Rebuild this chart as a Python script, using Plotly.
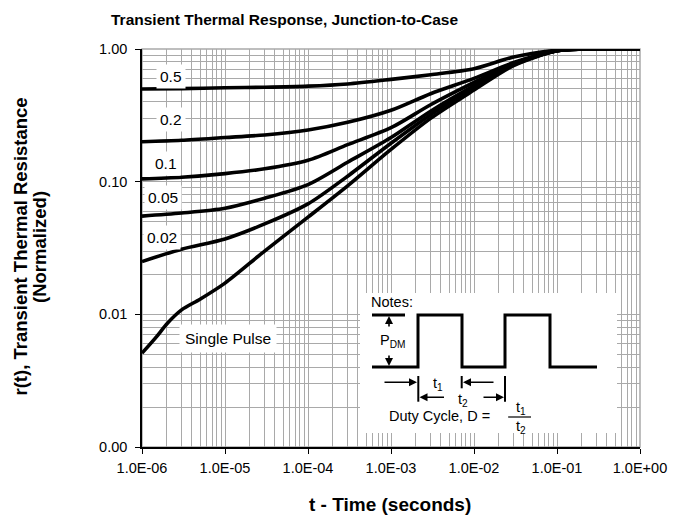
import plotly.graph_objects as go

# ---------------- data ----------------
t_duty = [1e-6, 3e-6, 1e-5, 3e-5, 1e-4, 3e-4, 1e-3, 3e-3, 1e-2, 3e-2, 1e-1, 2e-1, 1.0]
r_d050 = [0.50, 0.503, 0.51, 0.515, 0.525, 0.545, 0.59, 0.64, 0.71, 0.87, 0.98, 1.0, 1.0]
r_d020 = [0.20, 0.205, 0.215, 0.225, 0.245, 0.28, 0.345, 0.46, 0.60, 0.79, 0.97, 1.0, 1.0]
r_d010 = [0.105, 0.108, 0.115, 0.125, 0.145, 0.19, 0.255, 0.38, 0.56, 0.78, 0.97, 1.0, 1.0]
r_d005 = [0.055, 0.058, 0.063, 0.075, 0.095, 0.14, 0.215, 0.34, 0.53, 0.77, 0.97, 1.0, 1.0]
r_d002 = [0.025, 0.031, 0.037, 0.048, 0.068, 0.11, 0.195, 0.32, 0.51, 0.76, 0.97, 1.0, 1.0]

t_single = [1e-6, 1.5e-6, 2e-6, 3e-6, 5e-6, 1e-5, 3e-5, 1e-4, 3e-4, 1e-3, 3e-3, 1e-2, 3e-2, 1e-1, 2e-1, 1.0]
r_single = [0.0051, 0.0068, 0.0085, 0.0108, 0.013, 0.0172, 0.030, 0.054, 0.093, 0.175, 0.30, 0.49, 0.75, 0.97, 1.0, 1.0]

series_names = ["0.5", "0.2", "0.1", "0.05", "0.02", "Single Pulse"]

x_tickvals = [1e-6, 1e-5, 1e-4, 1e-3, 1e-2, 1e-1, 1.0]
x_ticktext = ["1.0E-06", "1.0E-05", "1.0E-04", "1.0E-03", "1.0E-02", "1.0E-01", "1.0E+00"]
y_tickvals = [0.001, 0.01, 0.1, 1.0]
y_ticktext = ["0.00", "0.01", "0.10", "1.00"]

# ---------------- layout geometry ----------------
# the page body has an 8px margin, so the figure is drawn 8px smaller and
# all screen positions below are given in window pixels
OFF = 8
W, H = 683 - OFF, 518 - OFF
ML, MR, MT, MB = 142 - OFF, 43, 49 - OFF, 71
PW, PH = W - ML - MR, H - MT - MB


def fx(px):
    return (px - OFF - ML) / PW


def fy(py):
    return (H + OFF - MB - py) / PH


FONT = "Liberation Sans, Arial, sans-serif"
GRID = "#a9a9a9"

fig = go.Figure()
all_series = [
    (t_duty, r_d050), (t_duty, r_d020), (t_duty, r_d010),
    (t_duty, r_d005), (t_duty, r_d002), (t_single, r_single),
]
for name, (tx, ry) in zip(series_names, all_series):
    fig.add_trace(go.Scatter(
        x=tx, y=ry, mode="lines", name=name,
        line=dict(color="black", width=3.6, shape="spline", smoothing=0.8),
        showlegend=False, hoverinfo="skip",
    ))

shapes = []
annotations = []

# plot border (grey top/right)
shapes.append(dict(type="rect", xref="paper", yref="paper", x0=0, x1=1, y0=0, y1=1,
                   line=dict(color=GRID, width=1.5), layer="below"))

# curve labels
label_pos = [(171, 76), (171, 119), (166, 163), (163, 197.5), (162, 237.5), (227.5, 338.5)]
for name, (px, py) in zip(series_names, label_pos):
    annotations.append(dict(
        x=fx(px), y=fy(py), xref="paper", yref="paper", text=name, showarrow=False,
        font=dict(family=FONT, size=15.5, color="black"), bgcolor="white",
        borderpad=5 if name == "Single Pulse" else 3,
        xanchor="center", yanchor="middle",
    ))

# ----- Notes inset -----
shapes.append(dict(type="rect", xref="paper", yref="paper",
                   x0=fx(360), x1=fx(617), y0=fy(433), y1=fy(293),
                   fillcolor="white", line=dict(width=0), layer="above"))


def pathp(points):
    s = ""
    for i, (px, py) in enumerate(points):
        s += ("M" if i == 0 else "L") + f"{fx(px):.5f},{fy(py):.5f} "
    return s.strip()


wave = [(372, 367), (418, 367), (418, 315), (462, 315), (462, 367), (505, 367),
        (505, 315), (550, 315), (550, 367), (597, 367)]
shapes.append(dict(type="path", xref="paper", yref="paper", path=pathp(wave),
                   line=dict(color="black", width=3), layer="above"))
shapes.append(dict(type="line", xref="paper", yref="paper", x0=fx(372), x1=fx(405),
                   y0=fy(315), y1=fy(315), line=dict(color="black", width=3), layer="above"))
for (xv, ya, yb) in [(418.3, 376, 401.7), (461.7, 376, 388.3), (505, 376, 401.7)]:
    shapes.append(dict(type="line", xref="paper", yref="paper", x0=fx(xv), x1=fx(xv),
                       y0=fy(ya), y1=fy(yb), line=dict(color="black", width=2), layer="above"))
# fraction bar
shapes.append(dict(type="line", xref="paper", yref="paper", x0=fx(508), x1=fx(531),
                   y0=fy(417), y1=fy(417), line=dict(color="black", width=1.2), layer="above"))

# arrows (head at x,y; tail offset ax, ay in px)
arrows = [
    (389, 316, 0, 12),      # P_DM up
    (389, 366, 0, -12),     # P_DM down
    (417, 382.3, -34, 0),   # t1 left arrow -> right
    (463, 382.3, 32, 0),    # t1 right arrow <- left
    (419.5, 397.3, 26, 0),  # t2 left
    (504, 397.3, -22, 0),   # t2 right
]
for (hx, hy, ax, ay) in arrows:
    annotations.append(dict(x=fx(hx), y=fy(hy), xref="paper", yref="paper", text="",
                            showarrow=True, ax=ax, ay=ay, arrowhead=2, arrowsize=1,
                            arrowwidth=1.6, arrowcolor="black", standoff=0))

notes_txt = [
    ("Notes:", 369, 302, "left"),
    ("P<sub>DM</sub>", 392, 341, "center"),
    ("t<sub>1</sub>", 438, 384, "center"),
    ("t<sub>2</sub>", 463, 400, "center"),
    ("Duty Cycle, D =", 439, 416, "center"),
    ("t<sub>1</sub>", 521, 408, "center"),
    ("t<sub>2</sub>", 521, 427, "center"),
]
for (txt, px, py, anc) in notes_txt:
    annotations.append(dict(x=fx(px), y=fy(py), xref="paper", yref="paper", text=txt,
                            showarrow=False, xanchor=anc, yanchor="middle",
                            font=dict(family=FONT, size=14.5, color="black")))

# axis titles
annotations.append(dict(x=fx(19.5), y=fy(247), xref="paper", yref="paper",
                        text="<b>r(t), Transient Thermal Resistance</b>", textangle=-90,
                        showarrow=False, font=dict(family=FONT, size=18.5, color="black"),
                        xanchor="center", yanchor="middle"))
annotations.append(dict(x=fx(39), y=fy(247), xref="paper", yref="paper",
                        text="<b>(Normalized)</b>", textangle=-90,
                        showarrow=False, font=dict(family=FONT, size=18.5, color="black"),
                        xanchor="center", yanchor="middle"))
annotations.append(dict(x=fx(390), y=fy(504), xref="paper", yref="paper",
                        text="<b>t - Time (seconds)</b>",
                        showarrow=False, font=dict(family=FONT, size=19, color="black"),
                        xanchor="center", yanchor="middle"))
annotations.append(dict(x=fx(284), y=fy(20), xref="paper", yref="paper",
                        text="<b>Transient Thermal Response, Junction-to-Case</b>",
                        showarrow=False,
                        font=dict(family=FONT, size=15.5, color="black"),
                        xanchor="center", yanchor="middle"))

fig.update_layout(
    width=W, height=H,
    margin=dict(l=ML, r=MR, t=MT, b=MB, pad=0),
    paper_bgcolor="white", plot_bgcolor="white",
    font=dict(family=FONT, color="black"),
    shapes=shapes, annotations=annotations,
    showlegend=False,
)
fig.update_xaxes(
    type="log", range=[-6, 0], tickvals=x_tickvals, ticktext=x_ticktext,
    showgrid=True, gridcolor=GRID, gridwidth=1,
    minor=dict(dtick="D1", showgrid=True, gridcolor=GRID, gridwidth=1, ticks=""),
    showline=True, linecolor="black", linewidth=1.5,
    ticks="outside", ticklen=5, tickcolor="black", tickwidth=1,
    tickfont=dict(family=FONT, size=14.5, color="black"), zeroline=False,
    ticklabelstandoff=2,
)
fig.update_yaxes(
    type="log", range=[-3, 0], tickvals=y_tickvals, ticktext=y_ticktext,
    showgrid=True, gridcolor=GRID, gridwidth=1,
    minor=dict(dtick="D1", showgrid=True, gridcolor=GRID, gridwidth=1, ticks=""),
    showline=True, linecolor="black", linewidth=1.5,
    ticks="outside", ticklen=5, tickcolor="black", tickwidth=1,
    tickfont=dict(family=FONT, size=14.5, color="black"), zeroline=False,
    ticklabelstandoff=5,
)

fig.write_html("out.html")
